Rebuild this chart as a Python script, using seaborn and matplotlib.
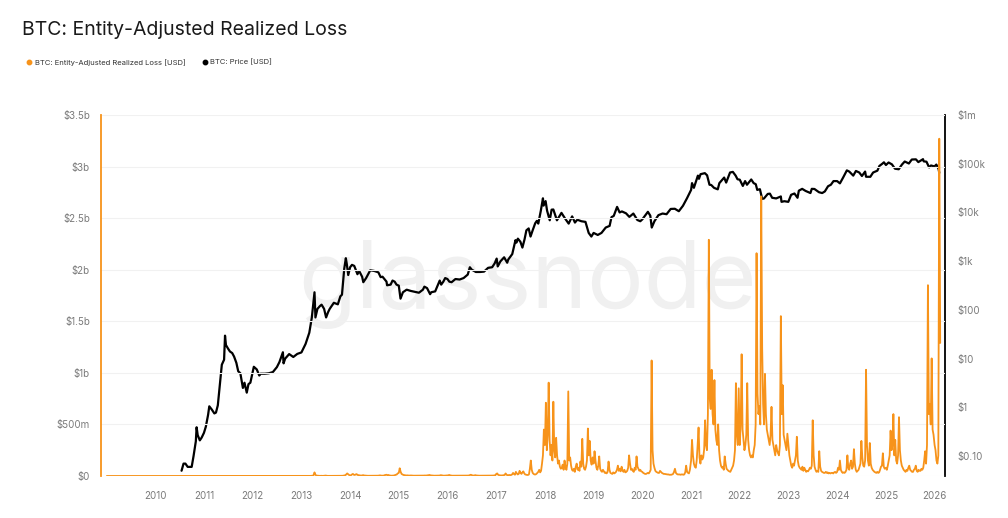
import matplotlib
matplotlib.use("agg")
import matplotlib.pyplot as plt
import matplotlib.ticker as mticker
import matplotlib.dates as mdates
from matplotlib.lines import Line2D
import pandas as pd
import seaborn as sns

# BTC price [USD]
price_dates = [
    "2010-07-17", "2010-07-25", "2010-08-01", "2010-08-15", "2010-09-01", "2010-09-15", "2010-10-01", "2010-10-15",
    "2010-11-01", "2010-11-07", "2010-11-15", "2010-12-01", "2010-12-15", "2011-01-01", "2011-01-15", "2011-02-01",
    "2011-02-10", "2011-03-01", "2011-03-20", "2011-04-01", "2011-04-15", "2011-05-01", "2011-05-15", "2011-06-01",
    "2011-06-08", "2011-06-15", "2011-07-01", "2011-07-15", "2011-08-01", "2011-08-15", "2011-09-01", "2011-09-15",
    "2011-10-01", "2011-10-20", "2011-11-01", "2011-11-18", "2011-12-01", "2011-12-15", "2012-01-01", "2012-01-10",
    "2012-02-01", "2012-02-20", "2012-03-01", "2012-04-01", "2012-05-01", "2012-06-01", "2012-07-01", "2012-07-20",
    "2012-08-15", "2012-08-20", "2012-09-01", "2012-10-01", "2012-11-01", "2012-12-01", "2013-01-01", "2013-02-01",
    "2013-03-01", "2013-03-20", "2013-04-09", "2013-04-16", "2013-05-01", "2013-05-20", "2013-06-01", "2013-06-20",
    "2013-07-05", "2013-07-20", "2013-08-01", "2013-09-01", "2013-10-01", "2013-10-20", "2013-11-01", "2013-11-18",
    "2013-11-30", "2013-12-07", "2013-12-18", "2014-01-01", "2014-01-15", "2014-02-01", "2014-02-25", "2014-03-10",
    "2014-04-01", "2014-04-10", "2014-05-01", "2014-06-01", "2014-07-01", "2014-08-01", "2014-08-18", "2014-09-01",
    "2014-10-01", "2014-10-05", "2014-11-01", "2014-11-15", "2014-12-01", "2014-12-15", "2015-01-01", "2015-01-14",
    "2015-02-01", "2015-03-01", "2015-04-01", "2015-05-01", "2015-06-01", "2015-07-01", "2015-07-12", "2015-08-01",
    "2015-08-24", "2015-09-01", "2015-10-01", "2015-11-04", "2015-11-15", "2015-12-01", "2015-12-15", "2016-01-01",
    "2016-01-15", "2016-02-01", "2016-03-01", "2016-04-01", "2016-05-01", "2016-06-01", "2016-06-17", "2016-07-01",
    "2016-08-01", "2016-09-01", "2016-10-01", "2016-11-01", "2016-12-01", "2016-12-20", "2017-01-04", "2017-01-12",
    "2017-02-01", "2017-03-01", "2017-03-24", "2017-04-01", "2017-05-01", "2017-05-25", "2017-06-01", "2017-06-12",
    "2017-07-01", "2017-07-16", "2017-08-01", "2017-08-15", "2017-09-01", "2017-09-15", "2017-10-01", "2017-10-20",
    "2017-11-01", "2017-11-12", "2017-12-01", "2017-12-17", "2017-12-22", "2018-01-06", "2018-01-17", "2018-02-06",
    "2018-02-20", "2018-03-05", "2018-04-01", "2018-05-05", "2018-06-01", "2018-06-28", "2018-07-24", "2018-08-14",
    "2018-09-01", "2018-10-01", "2018-11-01", "2018-11-25", "2018-12-15", "2019-01-01", "2019-02-01", "2019-03-01",
    "2019-04-02", "2019-05-01", "2019-05-15", "2019-06-01", "2019-06-26", "2019-07-15", "2019-08-01", "2019-09-01",
    "2019-09-26", "2019-10-26", "2019-11-25", "2019-12-17", "2020-01-01", "2020-02-12", "2020-03-01", "2020-03-12",
    "2020-04-01", "2020-05-01", "2020-06-01", "2020-07-01", "2020-08-01", "2020-09-01", "2020-10-01", "2020-11-01",
    "2020-12-01", "2021-01-01", "2021-01-08", "2021-01-22", "2021-02-21", "2021-03-01", "2021-03-13", "2021-04-14",
    "2021-05-01", "2021-05-19", "2021-06-01", "2021-06-22", "2021-07-20", "2021-08-01", "2021-09-06", "2021-09-21",
    "2021-10-20", "2021-11-10", "2021-12-01", "2021-12-15", "2022-01-01", "2022-01-24", "2022-02-10", "2022-02-24",
    "2022-03-28", "2022-04-15", "2022-05-01", "2022-05-12", "2022-06-01", "2022-06-18", "2022-07-01", "2022-07-30",
    "2022-08-15", "2022-09-01", "2022-10-01", "2022-11-05", "2022-11-10", "2022-12-01", "2022-12-31", "2023-01-21",
    "2023-02-15", "2023-03-10", "2023-03-20", "2023-04-14", "2023-05-10", "2023-06-15", "2023-06-25", "2023-07-15",
    "2023-08-18", "2023-09-11", "2023-10-01", "2023-10-25", "2023-11-15", "2023-12-05", "2024-01-01", "2024-01-22",
    "2024-02-15", "2024-03-14", "2024-04-01", "2024-05-01", "2024-05-21", "2024-06-15", "2024-07-05", "2024-07-29",
    "2024-08-05", "2024-09-06", "2024-09-27", "2024-10-29", "2024-11-13", "2024-12-05", "2024-12-17", "2025-01-01",
    "2025-01-21", "2025-02-15", "2025-03-10", "2025-04-07", "2025-05-01", "2025-05-22", "2025-06-22", "2025-07-14",
    "2025-08-14", "2025-09-01", "2025-10-06", "2025-10-11", "2025-11-01", "2025-11-21", "2025-12-05", "2025-12-31",
    "2026-01-14", "2026-01-31", "2026-02-05",
]
price_values = [
    0.05, 0.06, 0.07, 0.07, 0.06, 0.06, 0.06, 0.10,
    0.20, 0.39, 0.27, 0.21, 0.24, 0.30, 0.40, 0.70,
    1.05, 0.90, 0.75, 0.78, 1.10, 3.0, 7.5, 9.5,
    29.6, 19.0, 16.0, 14.0, 13.0, 11.0, 8.2, 5.5,
    5.0, 2.5, 3.2, 2.0, 3.0, 3.2, 5.2, 6.8,
    6.0, 4.5, 4.9, 4.9, 5.0, 5.3, 6.7, 8.5,
    13.5, 8.0, 10.0, 12.4, 10.8, 12.5, 13.4, 20.0,
    34, 70, 230, 70, 105, 120, 128, 105,
    70, 90, 105, 140, 130, 190, 205, 700,
    1150, 880, 520, 750, 840, 800, 540, 630,
    480, 370, 450, 650, 630, 590, 470, 480,
    380, 320, 330, 400, 380, 330, 315, 170,
    230, 260, 245, 235, 225, 260, 300, 280,
    210, 230, 240, 400, 330, 380, 450, 430,
    380, 370, 430, 420, 450, 530, 750, 670,
    600, 600, 610, 730, 750, 900, 1130, 780,
    990, 1200, 930, 1080, 1400, 2700, 2400, 2900,
    2500, 1900, 2800, 4300, 4700, 3200, 4300, 6000,
    6700, 5900, 10800, 19500, 13800, 17100, 10900, 6900,
    11400, 11500, 6900, 9800, 7500, 5900, 8300, 6200,
    7100, 6600, 6400, 3800, 3200, 3800, 3450, 3800,
    4900, 5300, 8000, 8500, 13000, 10000, 10500, 9600,
    8100, 9500, 7000, 6600, 7200, 10300, 8600, 4900,
    6600, 8800, 9500, 9200, 11800, 11900, 10600, 13700,
    19500, 29000, 40000, 32000, 57000, 49000, 61000, 64000,
    57800, 37000, 36600, 32000, 29800, 40000, 52000, 41000,
    66000, 68000, 57000, 48000, 47000, 35000, 44000, 37000,
    47500, 40000, 38000, 29000, 30000, 19000, 19300, 24000,
    24300, 20000, 19400, 21300, 16500, 17000, 16500, 23000,
    24500, 20000, 28000, 30500, 27600, 25000, 30500, 30300,
    26000, 25000, 27000, 34500, 37000, 44000, 44000, 39500,
    52000, 73000, 69000, 57000, 71000, 66000, 56000, 69000,
    54000, 53900, 66000, 72000, 90000, 100000, 107000, 94000,
    106000, 97000, 79000, 77000, 96000, 111000, 101000, 122000,
    123000, 108000, 124000, 112000, 110000, 84000, 92000, 88000,
    96000, 78000, 65000,
]

# Entity-adjusted realized loss [USD m]; flat at zero before 2013, then weekly values per year
loss_early_dates = ["2009-01-03", "2012-12-30"]
loss_early = [0, 0]
loss_2013 = [0, 0, 0, 0, 0, 0, 0, 0, 0, 1, 1, 2, 3,
             8, 35, 12, 4, 3, 2, 2, 1, 2, 1, 1, 2, 3,
             4, 2, 1, 1, 1, 1, 1, 1, 1, 1, 1, 1, 1,
             1, 1, 1, 1, 2, 2, 3, 5, 8, 15, 25, 18, 10]
loss_2014 = [5, 8, 15, 20, 12, 10, 15, 18, 10, 8, 6, 5, 4,
             6, 8, 5, 4, 3, 3, 2, 2, 2, 3, 2, 2, 2,
             2, 2, 2, 3, 3, 5, 6, 4, 3, 3, 4, 8, 10,
             12, 8, 10, 6, 4, 3, 3, 4, 5, 8, 10, 15, 25]
loss_2015 = [30, 75, 40, 20, 15, 10, 8, 6, 5, 6, 5, 4, 5,
             5, 4, 4, 3, 3, 3, 3, 3, 3, 3, 3, 3, 3,
             3, 4, 5, 4, 5, 6, 8, 10, 6, 5, 4, 3, 3,
             3, 3, 3, 3, 4, 5, 8, 6, 4, 3, 3, 4, 5]
loss_2016 = [5, 8, 10, 6, 4, 3, 3, 3, 3, 3, 3, 3, 3,
             3, 3, 3, 3, 3, 3, 3, 3, 3, 4, 5, 8, 12,
             8, 5, 4, 6, 8, 5, 4, 3, 3, 3, 3, 3, 3,
             3, 3, 3, 3, 3, 3, 3, 3, 3, 4, 5, 5, 4]
loss_2017 = [20, 25, 12, 8, 6, 5, 5, 6, 8, 10, 25, 12, 8,
             8, 10, 8, 10, 15, 30, 20, 12, 40, 25, 15, 20, 50,
             30, 20, 35, 45, 25, 15, 12, 10, 10, 15, 70, 150, 60,
             30, 20, 15, 15, 20, 30, 40, 60, 35, 50, 120, 200, 450]
loss_2018 = [300, 710, 250, 400, 905, 350, 200, 300, 150, 720, 250, 180, 370,
             200, 120, 150, 90, 70, 80, 110, 60, 150, 90, 60, 120, 820,
             150, 180, 100, 60, 50, 70, 40, 90, 120, 60, 80, 50, 140,
             90, 360, 120, 70, 60, 90, 150, 460, 200, 340, 150, 110, 180]
loss_2019 = [120, 240, 150, 80, 60, 100, 190, 70, 50, 40, 60, 45, 30,
             35, 25, 40, 140, 60, 30, 25, 20, 35, 25, 30, 40, 60,
             100, 50, 70, 45, 90, 55, 40, 60, 35, 40, 50, 80, 200,
             120, 60, 70, 50, 40, 80, 60, 190, 90, 70, 50, 60, 45]
loss_2020 = [40, 30, 25, 20, 20, 25, 30, 25, 40, 60, 1120, 250, 120,
             80, 50, 40, 35, 30, 30, 50, 40, 30, 25, 20, 20, 18,
             15, 15, 15, 12, 12, 12, 15, 20, 40, 70, 30, 20, 15,
             15, 15, 12, 15, 15, 12, 15, 35, 100, 40, 30, 25, 60]
loss_2021 = [150, 350, 200, 120, 90, 80, 150, 300, 470, 180, 120, 200, 160,
             180, 260, 540, 300, 250, 600, 2290, 750, 650, 1030, 600, 500, 930,
             450, 350, 300, 500, 250, 150, 100, 80, 90, 60, 190, 120, 70,
             60, 50, 45, 40, 60, 80, 100, 150, 250, 900, 400, 300, 850]
loss_2022 = [300, 500, 1180, 450, 350, 250, 300, 400, 900, 350, 250, 200, 180,
             200, 180, 250, 300, 500, 2160, 800, 600, 680, 500, 2710, 1240, 700,
             500, 990, 600, 450, 400, 350, 300, 400, 670, 350, 300, 250, 200,
             300, 250, 220, 200, 300, 1550, 600, 880, 400, 350, 300, 250, 410]
loss_2023 = [300, 200, 150, 100, 80, 120, 100, 150, 200, 380, 150, 100, 80,
             70, 60, 90, 50, 80, 60, 40, 50, 45, 60, 80, 70, 100,
             540, 200, 90, 60, 40, 50, 40, 240, 90, 50, 40, 35, 30,
             30, 40, 30, 35, 25, 30, 25, 30, 30, 25, 35, 40, 30]
loss_2024 = [40, 80, 60, 150, 60, 40, 30, 35, 30, 40, 60, 200, 80,
             60, 120, 150, 70, 90, 260, 120, 60, 40, 50, 60, 90, 120,
             340, 180, 100, 90, 150, 1030, 300, 150, 100, 320, 120, 80, 60,
             50, 40, 35, 30, 40, 30, 35, 60, 90, 100, 220, 90, 70]
loss_2025 = [80, 60, 100, 150, 200, 440, 250, 300, 600, 200, 350, 150, 120,
             200, 570, 250, 150, 100, 80, 60, 50, 40, 60, 50, 80, 100,
             60, 50, 40, 40, 60, 70, 100, 50, 40, 60, 50, 50, 70,
             60, 80, 150, 240, 120, 300, 1850, 600, 700, 500, 1140, 450, 400]
loss_2026 = [300, 250, 150, 120, 200, 3270, 1290]

loss_years = [2013, 2014, 2015, 2016, 2017, 2018, 2019, 2020, 2021, 2022, 2023, 2024, 2025, 2026]
loss_blocks = [loss_2013, loss_2014, loss_2015, loss_2016, loss_2017, loss_2018, loss_2019,
               loss_2020, loss_2021, loss_2022, loss_2023, loss_2024, loss_2025, loss_2026]

orange = "#f7931a"

price_df = pd.DataFrame({"date": pd.to_datetime(price_dates), "price": price_values})
frames = [pd.DataFrame({"date": pd.to_datetime(loss_early_dates), "loss": loss_early})]
for year, block in zip(loss_years, loss_blocks):
    frames.append(pd.DataFrame({"date": pd.date_range(str(year) + "-01-01", periods=len(block), freq="7D"),
                                "loss": block}))
loss_df = pd.concat(frames, ignore_index=True)
loss_df["loss"] = loss_df["loss"] * 1e6

sns.set_style("white")
plt.rcParams["font.family"] = ["Inter", "DejaVu Sans"]

fig = plt.figure(figsize=(10.08, 5.18), dpi=100)
ax = fig.add_axes([0.1002, 0.0811, 0.8373, 0.6969])
ax2 = ax.twinx()

sns.lineplot(data=price_df, x="date", y="price", ax=ax2, color="black", linewidth=1.6,
             estimator=None, sort=False)
sns.lineplot(data=loss_df, x="date", y="loss", ax=ax, color=orange, linewidth=1.3,
             estimator=None, sort=False)

# loss series on top of price
ax.set_zorder(ax2.get_zorder() + 1)
ax.patch.set_visible(False)

ax.set_xlim(pd.Timestamp("2008-11-20"), pd.Timestamp("2026-03-20"))
ax.set_ylim(0, 3.5e9)
ax2.set_yscale("log")
ax2.set_ylim(0.039, 1e6)

ax.set_xticks([pd.Timestamp(str(y) + "-01-01") for y in range(2010, 2027)])
ax.xaxis.set_major_formatter(mdates.DateFormatter("%Y"))

left_ticks = [0, 0.5e9, 1e9, 1.5e9, 2e9, 2.5e9, 3e9, 3.5e9]
left_labels = ["$0", "$500m", "$1b", "$1.5b", "$2b", "$2.5b", "$3b", "$3.5b"]
ax.set_yticks(left_ticks)
ax.set_yticklabels(left_labels)
right_ticks = [0.1, 1, 10, 100, 1e3, 1e4, 1e5, 1e6]
right_labels = ["$0.10", "$1", "$10", "$100", "$1k", "$10k", "$100k", "$1m"]
ax2.set_yticks(right_ticks)
ax2.set_yticklabels(right_labels)
ax2.yaxis.set_minor_locator(mticker.NullLocator())

ax.set_xlabel("")
ax.set_ylabel("")
ax2.set_ylabel("")

ax.grid(axis="y", color="#f1f1f1", linewidth=0.8)
ax.grid(axis="x", visible=False)
ax2.grid(False)

for a in (ax, ax2):
    for s in a.spines.values():
        s.set_visible(False)
ax.spines["left"].set_visible(True)
ax.spines["left"].set_color(orange)
ax.spines["left"].set_linewidth(1.3)
ax2.spines["right"].set_visible(True)
ax2.spines["right"].set_color("black")
ax2.spines["right"].set_linewidth(1.3)

ax.tick_params(axis="y", length=0, pad=8, labelsize=7, labelcolor="#7a7a7a")
ax.tick_params(axis="x", length=0, pad=11, labelsize=7, labelcolor="#7a7a7a")
ax2.tick_params(axis="y", length=0, pad=9, labelsize=7, labelcolor="#7a7a7a")

# watermark
ax2.text(0.505, 0.53, "glassnode", transform=ax2.transAxes, ha="center", va="center",
         fontsize=68, color="#f0f0f0", zorder=0)

fig.text(0.022, 0.942, "BTC: Entity-Adjusted Realized Loss", fontsize=14, color="#1a1a1a",
         va="center", ha="left")

handles = [Line2D([], [], marker="o", linestyle="", color=orange, markersize=3.2),
           Line2D([], [], marker="o", linestyle="", color="black", markersize=3.2)]
fig.legend(handles, ["BTC: Entity-Adjusted Realized Loss [USD]", "BTC: Price [USD]"],
           loc="center left", bbox_to_anchor=(0.020, 0.880), ncol=2, frameon=False,
           fontsize=5.5, handlelength=0.6, handletextpad=0.4, columnspacing=2.2,
           labelcolor="#333333")

fig.savefig("out.png", dpi=100, facecolor="white")
